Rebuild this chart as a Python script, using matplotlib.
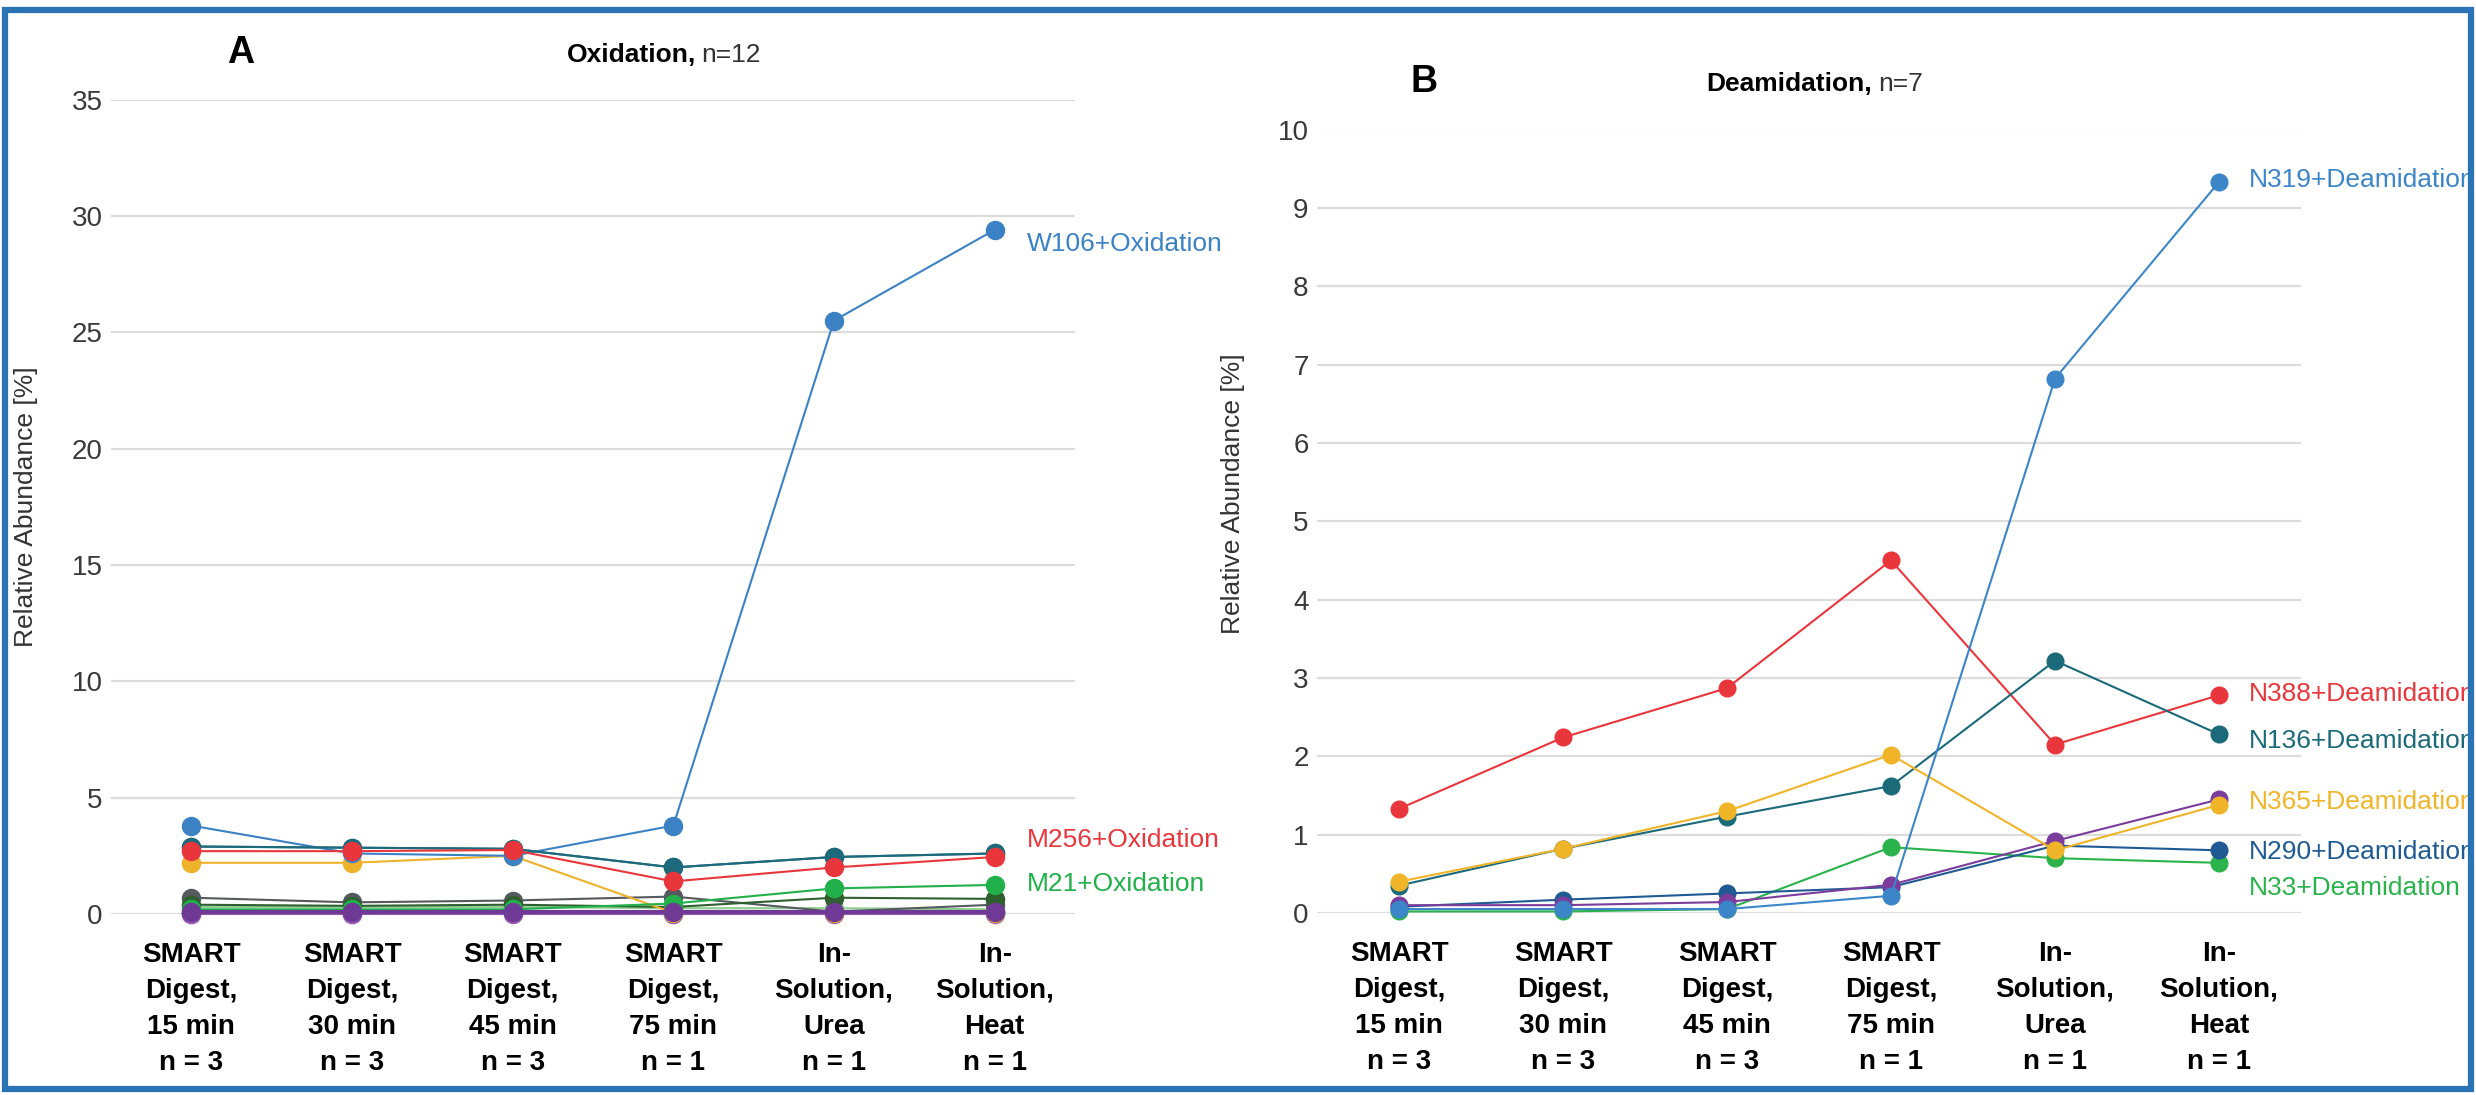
import numpy as np
import matplotlib
matplotlib.use("Agg")
import matplotlib.pyplot as plt
from matplotlib.patches import Rectangle

plt.rcParams['font.family'] = ['Liberation Sans Narrow', 'Liberation Sans', 'DejaVu Sans']

# categories (same for both panels)
categories = ["SMART\nDigest,\n15 min\nn = 3", "SMART\nDigest,\n30 min\nn = 3",
              "SMART\nDigest,\n45 min\nn = 3", "SMART\nDigest,\n75 min\nn = 1",
              "In-\nSolution,\nUrea\nn = 1", "In-\nSolution,\nHeat\nn = 1"]

# panel A - oxidation, 12 sites (only three are labelled)
ox_names = ["", "", "", "", "", "", "", "", "W106+Oxidation", "", "M256+Oxidation", "M21+Oxidation"]
ox_colors = ["#3b3b3b", "#7f8c8d", "#8fcf8f", "#555a5e", "#2f5f2f", "#9b59b6",
             "#eeb22b", "#1d6a7c", "#3b82c4", "#1d6a7c", "#e8363c", "#22b04b"]
ox_values = [
    [0.05, 0.05, 0.05, 0.05, 0.05, 0.10],
    [0.02, 0.02, 0.03, 0.02, 0.05, 0.03],
    [0.30, 0.30, 0.30, 0.25, 0.25, 0.20],
    [0.70, 0.50, 0.58, 0.75, 0.10, 0.40],
    [0.40, 0.35, 0.40, 0.30, 0.70, 0.65],
    [0.00, 0.00, 0.00, 0.00, 0.00, 0.00],
    [2.20, 2.20, 2.50, 0.05, 0.05, 0.05],
    [2.90, 2.85, 2.80, 2.00, 2.45, 2.60],
    [3.80, 2.60, 2.50, 3.80, 25.5, 29.4],
    [2.90, 2.85, 2.80, 2.00, 2.45, 2.60],
    [2.70, 2.70, 2.75, 1.40, 2.00, 2.45],
    [0.20, 0.20, 0.20, 0.45, 1.10, 1.25],
]
ox_purple = [0.10, 0.10, 0.10, 0.10, 0.10, 0.10]
ox_label_y = {"W106+Oxidation": 28.8, "M256+Oxidation": 3.2, "M21+Oxidation": 1.3}

# panel B - deamidation, 7 sites
de_names = ["N388+Deamidation", "N136+Deamidation", "N33+Deamidation", "N290+Deamidation",
            "", "N365+Deamidation", "N319+Deamidation"]
de_colors = ["#e8363c", "#1b6a7a", "#2ab24b", "#1f5a93", "#7b3c9c", "#f0b429", "#3b85c8"]
de_values = [
    [1.33, 2.24, 2.87, 4.50, 2.15, 2.78],
    [0.35, 0.82, 1.23, 1.62, 3.22, 2.28],
    [0.02, 0.02, 0.05, 0.84, 0.70, 0.64],
    [0.08, 0.17, 0.25, 0.33, 0.86, 0.80],
    [0.10, 0.10, 0.14, 0.36, 0.92, 1.45],
    [0.40, 0.82, 1.30, 2.02, 0.80, 1.38],
    [0.05, 0.05, 0.05, 0.22, 6.82, 9.33],
]
de_label_y = {"N319+Deamidation": 9.35, "N388+Deamidation": 2.8, "N136+Deamidation": 2.2,
              "N365+Deamidation": 1.42, "N290+Deamidation": 0.78, "N33+Deamidation": 0.32}

W, H = 2476, 1095
fig = plt.figure(figsize=(W / 100, H / 100), dpi=100)

def frame(ax, ymax, step):
    ax.set_xlim(-0.5, 5.5)
    ax.set_ylim(0, ymax)
    ax.set_yticks(np.arange(0, ymax + 0.1, step))
    ax.yaxis.grid(True, color="#dcdcdc", linewidth=1.6)
    ax.set_axisbelow(True)
    for s in ax.spines.values():
        s.set_visible(False)
    ax.tick_params(axis="y", length=0, pad=6, labelsize=20, labelcolor="#3a3a3a")
    ax.set_xticks(range(len(categories)))
    ax.set_xticklabels(categories, fontsize=20, fontweight="bold", linespacing=1.5)
    ax.tick_params(axis="x", length=0, pad=20)

x = np.arange(len(categories))

# panel A
axA = fig.add_axes([111 / W, 1 - 914 / H, 964 / W, (914 - 99.5) / H])
frame(axA, 35, 5)
for name, col, vals in zip(ox_names, ox_colors, ox_values):
    axA.plot(x, vals, "-o", color=col, lw=1.5, ms=13, clip_on=False)
axA.plot(x, ox_purple, "-o", color="#6f3a96", lw=3, ms=13, clip_on=False)
for name, col in zip(ox_names, ox_colors):
    if name:
        axA.text(5.2, ox_label_y[name], name, color=col, fontsize=19, va="center")
axA.set_ylabel("Relative Abundance [%]", fontsize=19, color="#333333")
axA.yaxis.set_label_coords(-0.076, 0.5)

# panel B
axB = fig.add_axes([1317 / W, 1 - 913 / H, 984 / W, (913 - 129.5) / H])
frame(axB, 10, 1)
for name, col, vals in zip(de_names, de_colors, de_values):
    axB.plot(x, vals, "-o", color=col, lw=1.5, ms=12, clip_on=False)
for name, col in zip(de_names, de_colors):
    if name:
        axB.text(5.18, de_label_y[name], name, color=col, fontsize=19, va="center")
axB.set_ylabel("Relative Abundance [%]", fontsize=19, color="#333333")
axB.yaxis.set_label_coords(-0.073, 0.535)

# panel letters and titles
fig.text(241 / W, 1 - 53 / H, "A", fontsize=27, fontweight="bold", ha="center", va="center")
fig.text(696 / W, 1 - 55 / H, "Oxidation,", fontsize=19, fontweight="bold", ha="right", va="center")
fig.text(701 / W, 1 - 55 / H, "n=12", fontsize=19, color="#333333", ha="left", va="center")
fig.text(1424 / W, 1 - 82 / H, "B", fontsize=27, fontweight="bold", ha="center", va="center")
fig.text(1872 / W, 1 - 84 / H, "Deamidation,", fontsize=19, fontweight="bold", ha="right", va="center")
fig.text(1878 / W, 1 - 84 / H, "n=7", fontsize=19, color="#333333", ha="left", va="center")

# blue frame around the figure
fig.patches.append(Rectangle((5 / W, 6 / H), 2466 / W, 1079 / H, transform=fig.transFigure,
                             fill=False, edgecolor="#2a73b5", linewidth=4.5))

fig.savefig("out.png", dpi=100)
